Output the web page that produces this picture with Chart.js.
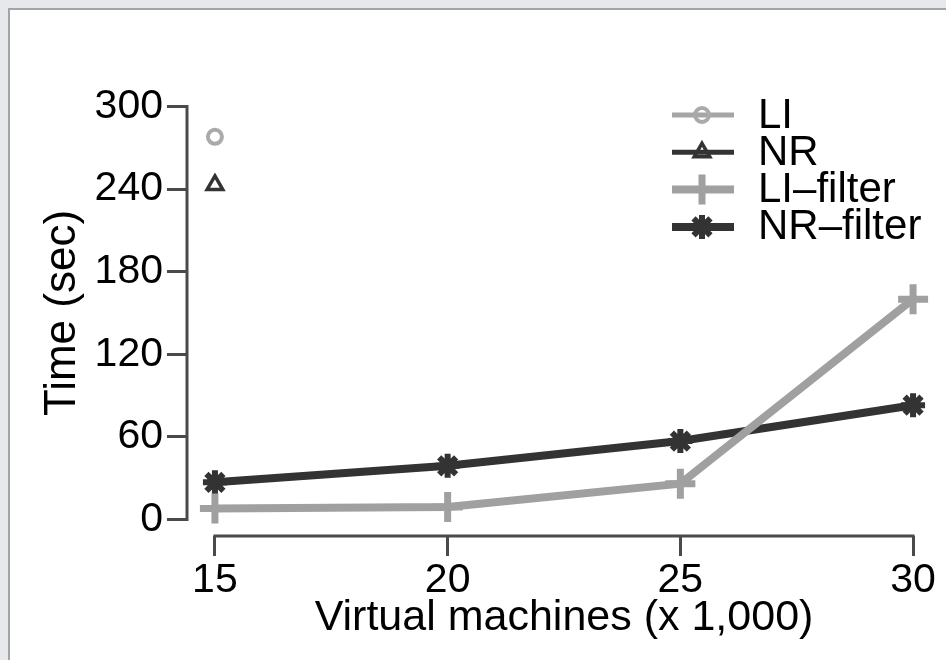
<!DOCTYPE html>
<html>
<head>
<meta charset="utf-8">
<title>Time vs virtual machines</title>
<script src="https://cdn.jsdelivr.net/npm/chart.js@4.4.1/dist/chart.umd.min.js"></script>
<style>
  html, body { margin: 0; padding: 0; background: #e6e8eb; overflow: hidden; }
  #frame {
    position: absolute; left: 8px; top: 8px; right: 0; bottom: 0;
    background: #fff;
    border-left: 2px solid #a4a4a4;
    border-top: 2px solid #a4a4a4;
  }
  #chart { position: absolute; left: 0; top: 0; }
</style>
</head>
<body>
<div id="frame"></div>
<canvas id="chart" width="946" height="660"></canvas>
<script>
// Values (x in thousands of VMs, y in seconds)
var vmThousands = [15, 20, 25, 30];
var liTime = [278, null, null, null];
var nrTime = [243, null, null, null];
var liFilterTime = [8, 9, 26, 160];
var nrFilterTime = [27, 39, 57, 83];
var yTickValues = [0, 60, 120, 180, 240, 300];
var seriesLabels = ['LI', 'NR', 'LI\u2013filter', 'NR\u2013filter'];

var LIGHT = '#a6a6a6';
var DARK = '#333333';
var AXIS = '#4a4a4a';

Chart.defaults.font.family = '"Liberation Sans", Arial, Helvetica, sans-serif';
Chart.defaults.color = '#000';

function toPoints(values) {
	return vmThousands.map(function (x, i) {
		return { x: x, y: values[i] };
	});
}

// R-style axis lines: only from the first tick to the last one.
var axisLines = {
	id: 'axisLines',
	beforeDatasetsDraw: function (chart) {
		var ctx = chart.ctx;
		var area = chart.chartArea;
		var xs = chart.scales.x;
		var ys = chart.scales.y;
		ctx.save();
		ctx.strokeStyle = AXIS;
		ctx.lineWidth = 3;
		ctx.beginPath();
		ctx.moveTo(area.left, ys.getPixelForValue(yTickValues[0]) + 1.5);
		ctx.lineTo(area.left, ys.getPixelForValue(yTickValues[yTickValues.length - 1]) - 1.5);
		ctx.moveTo(xs.getPixelForValue(vmThousands[0]) - 1.5, area.bottom);
		ctx.lineTo(xs.getPixelForValue(vmThousands[vmThousands.length - 1]) + 1.5, area.bottom);
		ctx.stroke();
		ctx.restore();
	}
};

// Legend inside the plot, top right, line + symbol like R's legend()
var insideLegend = {
	id: 'insideLegend',
	afterDraw: function (chart) {
		var ctx = chart.ctx;
		var area = chart.chartArea;
		var drawPoint = Chart.helpers && Chart.helpers.drawPoint;
		ctx.save();
		chart.data.datasets.forEach(function (ds, i) {
			var y = area.top + 25 + i * 37.3;
			var x0 = area.right - 269;
			var x1 = area.right - 207;
			var mx = area.right - 239;

			ctx.strokeStyle = ds.borderColor;
			ctx.lineWidth = ds.legendLineWidth;
			ctx.beginPath();
			ctx.moveTo(x0, y);
			ctx.lineTo(x1, y);
			ctx.stroke();

			if (drawPoint) {
				ctx.strokeStyle = ds.pointBorderColor;
				ctx.fillStyle = ds.pointBackgroundColor;
				ctx.lineWidth = ds.pointBorderWidth;
				drawPoint(ctx, {
					pointStyle: ds.pointStyle,
					radius: ds.pointRadius,
					borderWidth: ds.pointBorderWidth,
					rotation: 0
				}, mx, y);
			}

			ctx.fillStyle = '#000';
			ctx.font = '42px "Liberation Sans", Arial, sans-serif';
			ctx.textAlign = 'left';
			ctx.textBaseline = 'middle';
			ctx.fillText(ds.label, area.right - 183, y + 1);
		});
		ctx.restore();
	}
};

var tickGrid = {
	drawOnChartArea: false,
	drawTicks: true,
	tickLength: 20,
	tickWidth: 3,
	tickColor: AXIS,
	color: AXIS
};

new Chart(document.getElementById('chart').getContext('2d'), {
	type: 'line',
	data: {
		datasets: [
			{
				label: seriesLabels[0],
				data: toPoints(liTime),
				borderColor: LIGHT,
				borderWidth: 5,
				legendLineWidth: 5,
				pointStyle: 'circle',
				pointRadius: 7,
				pointBorderWidth: 4,
				pointBorderColor: '#aaaaaa',
				pointBackgroundColor: 'rgba(0,0,0,0)'
			},
			{
				label: seriesLabels[1],
				data: toPoints(nrTime),
				borderColor: DARK,
				borderWidth: 5,
				legendLineWidth: 5,
				pointStyle: 'triangle',
				pointRadius: 9,
				pointBorderWidth: 3.5,
				pointBorderColor: DARK,
				pointBackgroundColor: 'rgba(0,0,0,0)'
			},
			{
				label: seriesLabels[2],
				data: toPoints(liFilterTime),
				borderColor: '#a0a0a0',
				borderWidth: 8,
				legendLineWidth: 8,
				pointStyle: 'cross',
				pointRadius: 15,
				pointBorderWidth: 7,
				pointBorderColor: '#a0a0a0',
				pointBackgroundColor: '#a0a0a0'
			},
			{
				label: seriesLabels[3],
				data: toPoints(nrFilterTime),
				borderColor: DARK,
				borderWidth: 8,
				legendLineWidth: 8,
				pointStyle: 'star',
				pointRadius: 12,
				pointBorderWidth: 6,
				pointBorderColor: DARK,
				pointBackgroundColor: DARK
			}
		]
	},
	options: {
		responsive: false,
		animation: false,
		events: [],
		spanGaps: false,
		layout: {
			autoPadding: false,
			padding: { left: 0, right: 5, top: 90, bottom: 0 }
		},
		elements: { line: { tension: 0 } },
		plugins: {
			legend: { display: false },
			tooltip: { enabled: false }
		},
		scales: {
			x: {
				type: 'linear',
				min: 14.4,
				max: 30.6,
				afterBuildTicks: function (scale) {
					scale.ticks = vmThousands.map(function (v) { return { value: v }; });
				},
				afterFit: function (scale) { scale.height = 124; },
				grid: tickGrid,
				border: { display: false },
				ticks: {
					font: { size: 41 },
					color: '#000',
					padding: 0,
					maxRotation: 0,
					autoSkip: false
				},
				title: {
					display: true,
					text: 'Virtual machines (x 1,000)',
					color: '#000',
					font: { size: 43 },
					padding: { top: 0, bottom: 16 }
				}
			},
			y: {
				type: 'linear',
				min: -12,
				max: 312,
				afterBuildTicks: function (scale) {
					scale.ticks = yTickValues.map(function (v) { return { value: v }; });
				},
				afterFit: function (scale) { scale.width = 187; },
				grid: tickGrid,
				border: { display: false },
				ticks: {
					font: { size: 41 },
					color: '#000',
					padding: 4,
					autoSkip: false
				},
				title: {
					display: true,
					text: 'Time (sec)',
					color: '#000',
					font: { size: 44 },
					padding: { top: 36, bottom: 0 }
				}
			}
		}
	},
	plugins: [axisLines, insideLegend]
});
</script>
</body>
</html>
